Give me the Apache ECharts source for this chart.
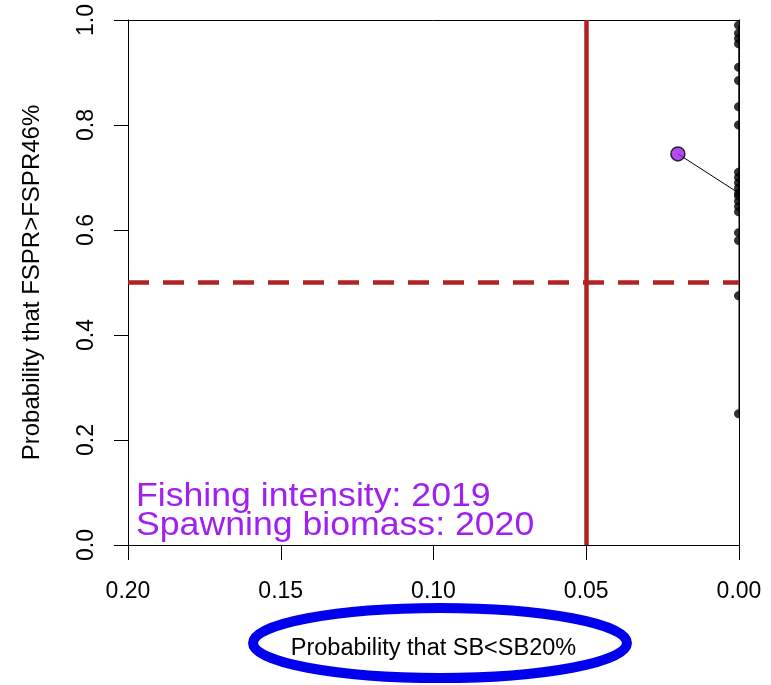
<!DOCTYPE html>
<html><head><meta charset="utf-8">
<script src="https://cdn.jsdelivr.net/npm/echarts@6/dist/echarts.min.js"></script>
<style>html,body{margin:0;padding:0;background:#fff}#c{width:771px;height:685px}</style>
</head><body><div id="c"></div>
<script>
// ---- data ----
const xTickValues = [0.20, 0.15, 0.10, 0.05, 0.00];
const yTickValues = [0.0, 0.2, 0.4, 0.6, 0.8, 1.0];
// probability that SB < SB20% (x) and FSPR > FSPR46% (y), trajectory order
const probSBbelow = [0, 0, 0, 0, 0, 0, 0, 0, 0, 0, 0, 0, 0, 0, 0, 0, 0, 0, 0, 0, 0, 0.02];
const probFabove  = [0.25, 0.475, 0.58, 0.595, 0.635, 0.645, 0.655, 0.69, 0.70, 0.71, 0.80, 0.835, 0.885, 0.91, 0.955, 0.965, 0.975, 0.99, 0.68, 0.665, 0.67, 0.745];
const refX = 0.05;
const refY = 0.5;
const xTitle = 'Probability that SB<SB20%';
const yTitle = 'Probability that FSPR>FSPR46%';
const noteLines = ['Fishing intensity: 2019', 'Spawning biomass: 2020'];

const pts = probSBbelow.map((x, i) => [x, probFabove[i]]);
const hist = pts.slice(0, pts.length - 1);
const last = pts.slice(pts.length - 1);
const xMin = 0, xMax = 0.2;

const FONT = '"Liberation Sans", Arial, sans-serif';
const chart = echarts.init(document.getElementById('c'), null, {renderer: 'canvas'});
const halfCircle = 'path://M10,0 C4.5,0 0,4.5 0,10 C0,15.5 4.5,20 10,20 Z';

chart.setOption({
  backgroundColor: '#fff',
  animation: false,
  grid: {left: 128, right: 32, top: 20, bottom: 140},
  xAxis: [{
    type: 'value', inverse: true, min: xMin, max: xMax, interval: 0.05,
    position: 'bottom',
    axisLine: {show: true, onZero: false, lineStyle: {color: '#000', width: 1}},
    axisTick: {show: true, length: 15, lineStyle: {color: '#000', width: 1}},
    axisLabel: {formatter: v => v.toFixed(2), fontSize: 23, color: '#000', fontFamily: FONT, margin: 35},
    splitLine: {show: false},
    name: xTitle, nameLocation: 'middle', nameGap: 92,
    nameTextStyle: {fontSize: 23.5, color: '#000', fontFamily: FONT}
  }, {
    type: 'value', inverse: true, min: xMin, max: xMax, position: 'top',
    axisLine: {show: true, onZero: false, lineStyle: {color: '#000', width: 1}},
    axisTick: {show: false}, axisLabel: {show: false}, splitLine: {show: false}
  }],
  yAxis: [{
    type: 'value', min: 0, max: 1, interval: 0.2, position: 'left',
    axisLine: {show: true, onZero: false, lineStyle: {color: '#000', width: 1}},
    axisTick: {show: true, length: 14, lineStyle: {color: '#000', width: 1}},
    axisLabel: {formatter: v => v.toFixed(1), fontSize: 23, color: '#000', fontFamily: FONT, rotate: 90, margin: 30},
    splitLine: {show: false},
    name: yTitle, nameLocation: 'middle', nameRotate: 90, nameGap: 84,
    nameTextStyle: {fontSize: 24, color: '#000', fontFamily: FONT}
  }, {
    type: 'value', min: 0, max: 1, position: 'right',
    axisLine: {show: true, onZero: false, lineStyle: {color: '#000', width: 1}},
    axisTick: {show: false}, axisLabel: {show: false}, splitLine: {show: false}
  }],
  series: [{
    type: 'line', data: pts, showSymbol: false, clip: false, z: 3,
    lineStyle: {color: '#000', width: 1},
    markLine: {
      silent: true, symbol: 'none', label: {show: false},
      data: [
        [{coord: [refX, 0]}, {coord: [refX, 1]}],
        [{coord: [xMax, refY], lineStyle: {type: [21, 14]}}, {coord: [xMin, refY]}]
      ],
      lineStyle: {color: '#B22222', width: 4.5, type: 'solid'}
    }
  }, {
    type: 'scatter', data: hist, clip: false, z: 4,
    symbol: halfCircle, symbolSize: [5, 9], symbolOffset: [-2.5, 0],
    itemStyle: {color: '#000'}
  }, {
    type: 'scatter', data: last, clip: false, z: 5,
    symbol: 'circle', symbolSize: 14,
    itemStyle: {color: '#A020F0', borderColor: '#000', borderWidth: 1.5}
  }],
  graphic: [{
    type: 'text', left: 136, top: 480, z: 10, scaleX: 1.08,
    style: {text: noteLines[0], fontSize: 33, fill: '#A020F0', fontFamily: FONT}
  }, {
    type: 'text', left: 136, top: 509, z: 10, scaleX: 1.08,
    style: {text: noteLines[1], fontSize: 33, fill: '#A020F0', fontFamily: FONT}
  }, {
    type: 'ellipse', z: 10,
    shape: {cx: 440, cy: 643, rx: 187, ry: 35},
    style: {fill: 'none', stroke: '#0000EE', lineWidth: 10}
  }]
});
</script>
</body></html>
